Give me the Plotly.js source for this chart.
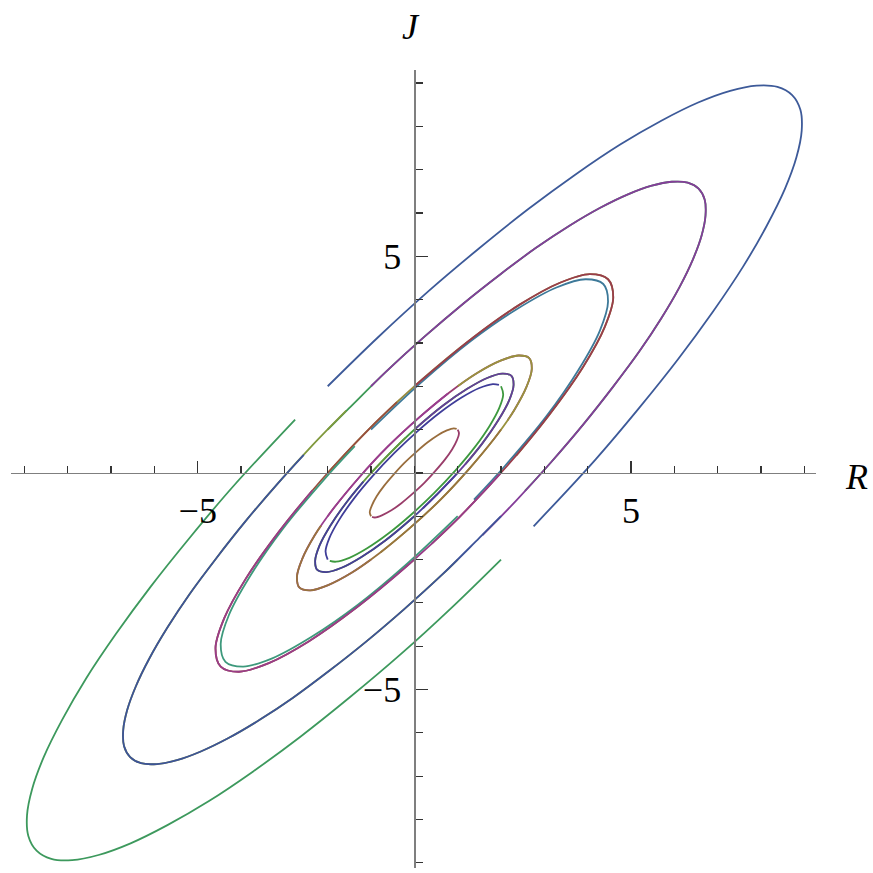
<!DOCTYPE html>
<html>
<head>
<meta charset="utf-8">
<script src="https://cdn.plot.ly/plotly-3.0.1.min.js"></script>
<style>
  html, body { margin: 0; padding: 0; background: #ffffff; }
  #chart { width: 873px; height: 873px; }
</style>
</head>
<body>
<div id="chart"></div>
<script>
// Phase plane (R, J): closed orbits of a linear centre, one ring of points per orbit size.
// Rings list [R, J] points at equal phase steps, index 0 at the upper-right tip
// (E1 and E2 every 7.5 degrees, the smaller rings every 15 degrees).
const E1 = [[8.72,8.72],[8.38,8.91],[7.90,8.94],[7.29,8.82],[6.55,8.55],[5.70,8.13],[4.75,7.58],[3.72,6.89],[2.63,6.09],[1.49,5.18],[0.32,4.19],[-0.85,3.12],[-2.00,2.00],[-3.12,0.85],[-4.19,-0.32],[-5.18,-1.49],[-6.09,-2.63],[-6.89,-3.72],[-7.58,-4.75],[-8.13,-5.70],[-8.55,-6.55],[-8.82,-7.29],[-8.94,-7.90],[-8.91,-8.38],[-8.72,-8.72],[-8.38,-8.91],[-7.90,-8.94],[-7.29,-8.82],[-6.55,-8.55],[-5.70,-8.13],[-4.75,-7.58],[-3.72,-6.89],[-2.63,-6.09],[-1.49,-5.18],[-0.32,-4.19],[0.85,-3.12],[2.00,-2.00],[3.12,-0.85],[4.19,0.32],[5.18,1.49],[6.09,2.63],[6.89,3.72],[7.58,4.75],[8.13,5.70],[8.55,6.55],[8.82,7.29],[8.94,7.90],[8.91,8.38]];
const E2 = [[6.56,6.56],[6.31,6.70],[5.94,6.72],[5.48,6.63],[4.93,6.43],[4.29,6.12],[3.57,5.70],[2.80,5.19],[1.98,4.58],[1.12,3.90],[0.24,3.15],[-0.64,2.35],[-1.50,1.50],[-2.35,0.64],[-3.15,-0.24],[-3.90,-1.12],[-4.58,-1.98],[-5.19,-2.80],[-5.70,-3.57],[-6.12,-4.29],[-6.43,-4.93],[-6.63,-5.48],[-6.72,-5.94],[-6.70,-6.31],[-6.56,-6.56],[-6.31,-6.70],[-5.94,-6.72],[-5.48,-6.63],[-4.93,-6.43],[-4.29,-6.12],[-3.57,-5.70],[-2.80,-5.19],[-1.98,-4.58],[-1.12,-3.90],[-0.24,-3.15],[0.64,-2.35],[1.50,-1.50],[2.35,-0.64],[3.15,0.24],[3.90,1.12],[4.58,1.98],[5.19,2.80],[5.70,3.57],[6.12,4.29],[6.43,4.93],[6.63,5.48],[6.72,5.94],[6.70,6.31]];
const E3 = [[4.47,4.47],[4.05,4.59],[3.36,4.39],[2.44,3.89],[1.35,3.12],[0.17,2.15],[-1.03,1.03],[-2.15,-0.17],[-3.12,-1.35],[-3.89,-2.44],[-4.39,-3.36],[-4.59,-4.05],[-4.47,-4.47],[-4.05,-4.59],[-3.36,-4.39],[-2.44,-3.89],[-1.35,-3.12],[-0.17,-2.15],[1.03,-1.03],[2.15,0.17],[3.12,1.35],[3.89,2.44],[4.39,3.36],[4.59,4.05]];
const E4 = [[4.36,4.36],[3.95,4.47],[3.28,4.28],[2.38,3.79],[1.31,3.05],[0.16,2.09],[-1.00,1.00],[-2.09,-0.16],[-3.05,-1.31],[-3.79,-2.38],[-4.28,-3.28],[-4.47,-3.95],[-4.36,-4.36],[-3.95,-4.47],[-3.28,-4.28],[-2.38,-3.79],[-1.31,-3.05],[-0.16,-2.09],[1.00,-1.00],[2.09,0.16],[3.05,1.31],[3.79,2.38],[4.28,3.28],[4.47,3.95]];
const E5 = [[2.65,2.65],[2.40,2.71],[1.99,2.59],[1.44,2.30],[0.80,1.85],[0.10,1.27],[-0.61,0.61],[-1.27,-0.10],[-1.85,-0.80],[-2.30,-1.44],[-2.59,-1.99],[-2.71,-2.40],[-2.65,-2.65],[-2.40,-2.71],[-1.99,-2.59],[-1.44,-2.30],[-0.80,-1.85],[-0.10,-1.27],[0.61,-0.61],[1.27,0.10],[1.85,0.80],[2.30,1.44],[2.59,1.99],[2.71,2.40]];
const E6 = [[2.24,2.24],[2.03,2.29],[1.68,2.19],[1.22,1.94],[0.67,1.56],[0.08,1.07],[-0.51,0.51],[-1.07,-0.08],[-1.56,-0.67],[-1.94,-1.22],[-2.19,-1.68],[-2.29,-2.03],[-2.24,-2.24],[-2.03,-2.29],[-1.68,-2.19],[-1.22,-1.94],[-0.67,-1.56],[-0.08,-1.07],[0.51,-0.51],[1.07,0.08],[1.56,0.67],[1.94,1.22],[2.19,1.68],[2.29,2.03]];
const E7 = [[2.00,2.00],[1.81,2.05],[1.50,1.96],[1.09,1.74],[0.60,1.40],[0.07,0.96],[-0.46,0.46],[-0.96,-0.07],[-1.40,-0.60],[-1.74,-1.09],[-1.96,-1.50],[-2.05,-1.81],[-2.00,-2.00],[-1.81,-2.05],[-1.50,-1.96],[-1.09,-1.74],[-0.60,-1.40],[-0.07,-0.96],[0.46,-0.46],[0.96,0.07],[1.40,0.60],[1.74,1.09],[1.96,1.50],[2.05,1.81]];
const E8 = [[1.00,1.00],[0.91,1.03],[0.75,0.98],[0.54,0.87],[0.30,0.70],[0.04,0.48],[-0.23,0.23],[-0.48,-0.04],[-0.70,-0.30],[-0.87,-0.54],[-0.98,-0.75],[-1.03,-0.91],[-1.00,-1.00],[-0.91,-1.03],[-0.75,-0.98],[-0.54,-0.87],[-0.30,-0.70],[-0.04,-0.48],[0.23,-0.23],[0.48,0.04],[0.70,0.30],[0.87,0.54],[0.98,0.75],[1.03,0.91]];
const RINGS = { E1, E2, E3, E4, E5, E6, E7, E8 };

// Trajectories in drawing order: initial point, the ring it runs on,
// first ring index after the start, number of ring points passed (clockwise), final point.
const startR = [-2,-2,-2,-2,-2,-1,-1,-1,-1,-1, 0, 0, 0, 0, 1, 1, 1, 1, 1, 2, 2, 2, 2, 2];
const startJ = [-2,-1, 0, 1, 2,-2,-1, 0, 1, 2,-2,-1, 1, 2,-2,-1, 0, 1, 2,-2,-1, 0, 1, 2];
const ringOf = ['E7','E5','E3','E2','E1','E5','E8','E6','E4','E2','E3','E6','E6','E3','E2','E4','E6','E8','E5','E1','E2','E3','E5','E7'];
const firstIdx = [11, 8, 6,12,11,15,11, 6, 5,11,16,16, 4, 4,35,17,18,23, 3,35,36,18,20,23];
const passCount = [11,12,11,23,22,11,11,11,11,23,11,11,11,11,23,11,11,11,11,22,23,11,12,11];
const endR = [1.952,2.153,2.352,2.552,2.752,0.777,0.976,1.176,1.376,1.573,-0.400,-0.200,0.200,0.400,-1.573,-1.376,-1.176,-0.976,-0.777,-2.752,-2.552,-2.352,-2.153,-1.952];
const endJ = [2.032,1.217,0.400,-0.417,-1.232,1.833,1.016,0.200,-0.616,-1.436,1.632,0.816,-0.816,-1.632,1.436,0.616,-0.200,-1.016,-1.833,1.232,0.417,-0.400,-1.217,-2.032];
const colors = ['#3F3D99','#993D71','#998B3D','#3D9956','#3D5A99','#993D8F','#996D3D','#43993D','#3D7999','#843D99','#994E3D','#62993D','#653D99','#993D4B','#80993D','#3D997C','#463D99','#993D6A','#99933D','#3D995D','#3D5399','#993D88','#99743D','#3D993E'];

const xTickVals = [-5, 5];
const xTickText = ['\u22125', '5'];
const yTickVals = [-5, 5];
const yTickText = ['\u22125', '5'];

const traces = startR.map((r0, k) => {
  const ring = RINGS[ringOf[k]];
  const L = ring.length;
  const xs = [r0], ys = [startJ[k]];
  for (let m = 0; m < passCount[k]; m++) {
    const p = ring[(firstIdx[k] - m + 2 * L) % L];
    xs.push(p[0]); ys.push(p[1]);
  }
  xs.push(endR[k]); ys.push(endJ[k]);
  return {
    type: 'scatter', mode: 'lines', x: xs, y: ys,
    line: { color: colors[k], width: 1.8, shape: 'spline', smoothing: 1 },
    hoverinfo: 'skip'
  };
});

const serif = 'Liberation Serif';
const axisCommon = {
  anchor: 'free', showgrid: false, zeroline: false,
  showline: true, linecolor: '#7f7f7f', linewidth: 1.5,
  ticks: 'inside', ticklen: 12, tickwidth: 1.2, tickcolor: '#333333',
  tickmode: 'array',
  tickfont: { family: serif, size: 36, color: '#000000' },
  minor: { tickmode: 'linear', tick0: 0, dtick: 1, ticks: 'inside', ticklen: 7,
           tickwidth: 1.2, tickcolor: '#333333', showgrid: false },
  fixedrange: true
};

const layout = {
  width: 873, height: 873,
  margin: { l: 11, r: 57, t: 70, b: 5 },
  paper_bgcolor: '#ffffff', plot_bgcolor: '#ffffff',
  font: { family: serif, color: '#000000' },
  showlegend: false,
  xaxis: Object.assign({}, axisCommon, {
    range: [-9.31, 9.27], position: 0.4951,
    tickvals: xTickVals, ticktext: xTickText, ticklabelstandoff: 5
  }),
  yaxis: Object.assign({}, axisCommon, {
    range: [-9.12, 9.30], position: 0.5011,
    tickvals: yTickVals, ticktext: yTickText, ticklabelstandoff: 6
  }),
  annotations: [
    { text: '<i>R</i>', xref: 'paper', yref: 'paper', x: 1.0497, y: 0.490,
      xanchor: 'center', yanchor: 'middle', showarrow: false,
      font: { family: serif, size: 36, color: '#000000' } },
    { text: '<i>J</i>', xref: 'paper', yref: 'paper', x: 0.4969, y: 1.0539,
      xanchor: 'center', yanchor: 'middle', showarrow: false,
      font: { family: serif, size: 36, color: '#000000' } }
  ]
};

Plotly.newPlot('chart', traces, layout, { staticPlot: true, displayModeBar: false });
</script>
</body>
</html>
